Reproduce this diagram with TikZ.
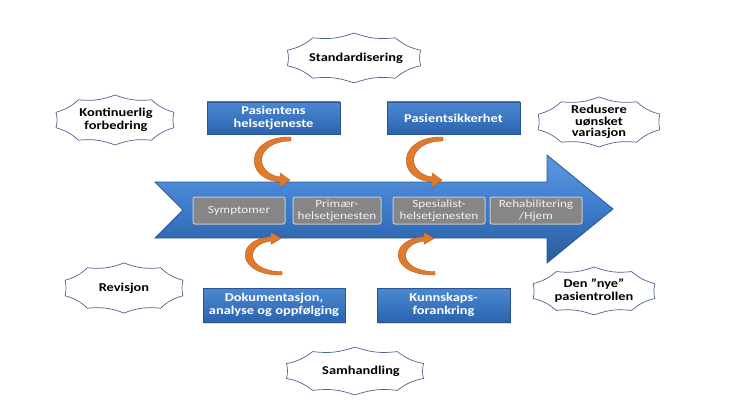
\documentclass[tikz,border=0pt]{standalone}
\usepackage{fontspec}
\setmainfont{Carlito}[FakeStretch=1.2]
\usetikzlibrary{arrows.meta,shadows,calc}
\definecolor{arrowblue}{HTML}{3C7BCB}
\definecolor{arrowlight}{HTML}{5E98DE}
\definecolor{arrowdark}{HTML}{2A5A9A}
\definecolor{boxtop}{HTML}{4B88D2}
\definecolor{boxbot}{HTML}{2C63AE}
\definecolor{boxedge}{HTML}{2A5590}
\definecolor{stepgray}{HTML}{868686}
\definecolor{stepedge}{HTML}{C9C9C9}
\definecolor{steptext}{HTML}{F2F2F2}
\definecolor{orangeA}{HTML}{E07A2C}
\definecolor{orangeD}{HTML}{B85A18}
\definecolor{sealedge}{HTML}{4E6290}
\tikzset{
  stepbox/.style={draw=stepedge, line width=1pt, fill=stepgray, rounded corners=2pt,
    minimum height=27pt, inner sep=1pt, align=center, text=steptext,
    font=\fontsize{11}{12}\selectfont},
  bluebox/.style={draw=boxedge, line width=0.6pt, top color=boxtop, bottom color=boxbot,
    minimum height=32pt, inner sep=1pt, align=center, text=white,
    font=\fontsize{12}{13}\selectfont\bfseries, drop shadow={shadow xshift=1pt, shadow yshift=-1.5pt, opacity=0.3}},
  sealtext/.style={align=center, text=black, inner sep=0pt,
    font=\fontsize{12}{13}\selectfont\bfseries},
  sealline/.style={draw=sealedge, line width=0.7pt},
  curlfill/.style={fill=orangeA, draw=orangeD, line width=0.4pt},
}
% seal outline round a text node: name, dx, dy, half width, half height
\newcommand\sealshape[5]{%
  \draw[sealline] ($(#1.center)+(#2,#3)+(90:#4 and #5)$)
    \foreach \k in {1,...,9} { to[bend right=13] ($(#1.center)+(#2,#3)+(90+36*\k:#4 and #5)$) }
    to[bend right=13] ($(#1.center)+(#2,#3)+(90:#4 and #5)$) -- cycle;}
\newcommand\curlpath{(0,0) .. controls (-46,-1) and (-48,42) .. (-11,45) -- (-11,50) -- (-1,43) -- (-11,36) -- (-11,40) .. controls (-38,36) and (-36,4) .. (0,4) -- cycle}
\begin{document}
\begin{tikzpicture}[x=1pt,y=-1pt]
\useasboundingbox (0,0) rectangle (756,412);
% big arrow
\path[draw=arrowdark, line width=0.8pt, top color=arrowlight, bottom color=arrowdark, middle color=arrowblue]
  (155,182) -- (547,182) -- (547,155) -- (613,209) -- (547,263) -- (547,238) -- (155,238) -- (183,210) -- cycle;
% steps
\node[stepbox, minimum width=92pt] (s1) at (239,210.5) {Symptomer};
\node[stepbox, minimum width=88pt] (s2) at (337,210.5) {Primær-\\helsetjenesten};
\node[stepbox, minimum width=92pt] (s3) at (439,210.5) {Spesialist-\\helsetjenesten};
\node[stepbox, minimum width=92pt] (s4) at (536,210.5) {Rehabilitering\\/Hjem};
% blue boxes
\node[bluebox, minimum width=133pt] (b1) at (273.5,118) {Pasientens\\helsetjeneste};
\node[bluebox, minimum width=133pt] (b2) at (453.5,118) {Pasientsikkerhet};
\node[bluebox, minimum width=142pt, minimum height=34pt] (b3) at (274,305) {Dokumentasjon,\\analyse og oppfølging};
\node[bluebox, minimum width=133pt, minimum height=34pt] (b4) at (443.5,305) {Kunnskaps-\\forankring};
% curl arrows
\begin{scope}[shift={(291,137)}] \path[curlfill] \curlpath; \end{scope}
\begin{scope}[shift={(443,137)}] \path[curlfill] \curlpath; \end{scope}
\begin{scope}[shift={(282,275)}, yscale=-0.85] \path[curlfill] \curlpath; \end{scope}
\begin{scope}[shift={(435,275)}, yscale=-0.85] \path[curlfill] \curlpath; \end{scope}
% seals
\node[sealtext] (st) at (356,58) {Standardisering};
\node[sealtext] (ko) at (116,120) {Kontinuerlig\\forbedring};
\node[sealtext, font=\fontsize{12}{11.5}\selectfont\bfseries] (re) at (599,122) {Redusere\\uønsket\\variasjon};
\node[sealtext] (rv) at (124,288) {Revisjon};
\node[sealtext] (dn) at (594,291) {Den ”nye”\\pasientrollen};
\node[sealtext] (sa) at (361,371) {Samhandling};
\sealshape{st}{-2}{0}{70}{25}
\sealshape{ko}{-1}{0}{62}{25}
\sealshape{re}{0}{0}{64}{25}
\sealshape{rv}{0}{0}{62}{25}
\sealshape{dn}{0}{0}{64}{24}
\sealshape{sa}{-6}{0}{72}{24}
\end{tikzpicture}
\end{document}
